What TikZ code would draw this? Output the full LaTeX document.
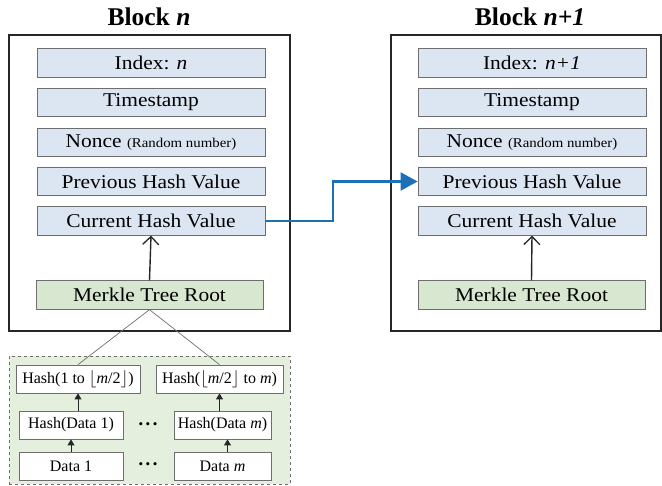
\documentclass[tikz,border=0pt]{standalone}
\usepackage{fontspec}
\setmainfont{Liberation Serif}
\newfontfamily\widefont[FakeStretch=1.1]{Liberation Serif}
\usetikzlibrary{arrows.meta,calc}
\definecolor{fieldblue}{RGB}{220,230,242}
\definecolor{fieldgreen}{RGB}{216,232,208}
\definecolor{treegreen}{RGB}{228,240,221}
\definecolor{linkblue}{RGB}{28,112,182}
\definecolor{edgegray}{RGB}{110,110,110}
\tikzset{
  blockbox/.style={draw=black!85,line width=1.1pt},
  field/.style={draw=edgegray,line width=0.8pt,fill=fieldblue,minimum width=228pt,minimum height=28.5pt,inner sep=0pt,font=\widefont\fontsize{19.5}{21}\selectfont},
  rootfield/.style={field,fill=fieldgreen,minimum width=227pt},
  treebox/.style={draw=edgegray,line width=0.8pt,fill=white,minimum height=28pt,inner sep=0pt,font=\fontsize{16}{17}\selectfont},
  titletext/.style={font=\fontsize{25.5}{27}\selectfont\bfseries},
  uparrow/.style={draw=black!85,line width=1.4pt,-{Straight Barb[length=8pt,width=16pt,line width=1.3pt]}},
  smallarrow/.style={draw=black!85,line width=0.9pt,-{Triangle[length=6pt,width=7pt]}},
  treeline/.style={draw=edgegray,line width=0.7pt},
  dots/.style={font=\fontsize{13}{13}\selectfont,inner sep=0pt}
}
\newcommand{\mydots}{\textbullet\hspace{2.5pt}\textbullet\hspace{2.5pt}\textbullet}
\begin{document}
\begin{tikzpicture}[x=1pt,y=-1pt]
\useasboundingbox (0,0) rectangle (662,486);
% dashed merkle area
\node[draw=edgegray,dashed,line width=0.8pt,fill=treegreen,minimum width=281pt,minimum height=128pt,inner sep=0pt] (tree) at (149.5,420) {};
% outer blocks
\node[blockbox,minimum width=281pt,minimum height=296pt,inner sep=0pt] (blkA) at (149.5,183) {};
\node[blockbox,minimum width=270pt,minimum height=296pt,inner sep=0pt] (blkB) at (526,183) {};
\node[titletext] (titleA) at (149,17) {Block \textit{n}};
\node[titletext] (titleB) at (530,17) {Block \textit{n+1}};
% block n fields
\node[field] (idxA) at (151,63) {Index: \textit{n}};
\node[field] (tsA) at (151,102.5) {Timestamp};
\node[field] (ncA) at (151,142.5) {Nonce {\fontsize{13.5}{15}\selectfont(Random number)}};
\node[field] (prA) at (151,181.5) {Previous Hash Value};
\node[field] (cuA) at (151,221) {Current Hash Value};
\node[rootfield] (mkA) at (149.5,295) {Merkle Tree Root};
% block n+1 fields
\node[field] (idxB) at (532,63) {Index: \textit{n+1}};
\node[field] (tsB) at (532,102.5) {Timestamp};
\node[field] (ncB) at (532,142.5) {Nonce {\fontsize{13.5}{15}\selectfont(Random number)}};
\node[field] (prB) at (532,181.5) {Previous Hash Value};
\node[field] (cuB) at (532,221) {Current Hash Value};
\node[rootfield] (mkB) at (531.5,295) {Merkle Tree Root};
% arrows inside blocks
\draw[uparrow] (mkA.north) -- (cuA.south);
\draw[uparrow] (mkB.north) -- (cuB.south);
% link arrow
\coordinate (bend) at (333,221);
\draw[linkblue,line width=2.2pt,-{Triangle[length=17pt,width=18pt]}] (cuA.east) -- (bend) |- (prB.west);
% merkle tree
\node[treebox,minimum width=124pt] (h1) at (78,379) {Hash(1 to $\lfloor$\textit{m}/2$\rfloor$)};
\node[treebox,minimum width=127pt] (h2) at (219.5,379) {Hash($\lfloor$\textit{m}/2$\rfloor$ to \textit{m})};
\node[treebox,minimum width=104pt] (hd1) at (71,425) {Hash(Data 1)};
\node[treebox,minimum width=97pt] (hdm) at (222.5,425) {Hash(Data \textit{m})};
\node[treebox,minimum width=104pt] (d1) at (71,466) {Data 1};
\node[treebox,minimum width=97pt] (dm) at (222.5,466) {Data \textit{m}};
\node[dots] (dotsA) at (148,426) {\mydots};
\node[dots] (dotsB) at (148,466) {\mydots};
\draw[treeline] (mkA.south) -- (h1.north);
\draw[treeline] (mkA.south) -- (h2.north);
\draw[smallarrow] (hd1.north -| h1.south) -- (h1.south);
\draw[smallarrow] (hdm.north -| h2.south) -- (h2.south);
\draw[smallarrow] (d1.north) -- (hd1.south);
\draw[smallarrow] ($(dm.north)+(5,0)$) -- ($(hdm.south)+(5,0)$);
\end{tikzpicture}
\end{document}
